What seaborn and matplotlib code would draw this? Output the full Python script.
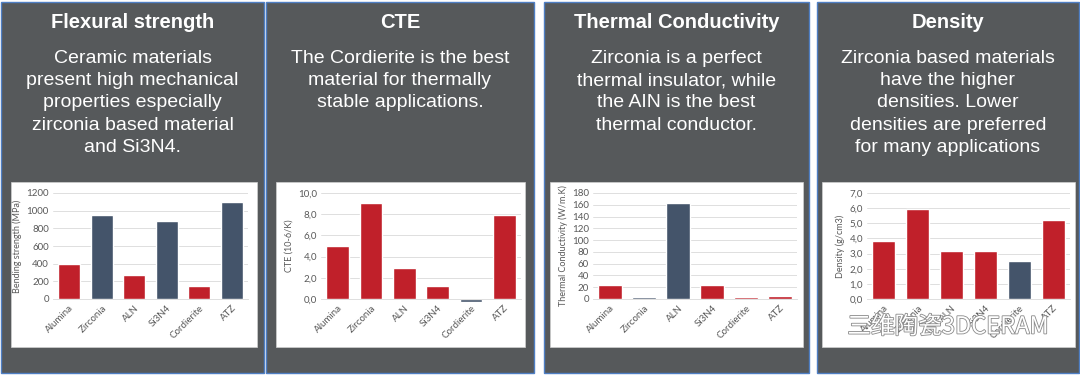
import pandas as pd
import matplotlib.pyplot as plt
import seaborn as sns
from matplotlib.patches import Rectangle
import matplotlib.patheffects as pe

# Data
materials = ['Alumina', 'Zirconia', 'ALN', 'Si3N4', 'Cordierite', 'ATZ']
flexural = [400, 950, 270, 880, 150, 1100]
cte = [5.0, 9.1, 2.9, 1.25, -0.25, 7.95]
conductivity = [24, 3, 163, 24, 3, 5]
density = [3.85, 5.95, 3.2, 3.15, 2.5, 5.2]

RED, NAVY = '#c0202a', '#44546a'
flexural_colors = [RED, NAVY, RED, NAVY, RED, NAVY]
cte_colors = [RED, RED, RED, RED, NAVY, RED]
conductivity_colors = [RED, NAVY, NAVY, RED, RED, RED]
density_colors = [RED, RED, RED, RED, NAVY, RED]

titles = ['Flexural strength', 'CTE', 'Thermal Conductivity', 'Density']
texts = [
    'Ceramic materials\npresent high mechanical\nproperties especially\nzirconia based material\nand Si3N4.',
    'The Cordierite is the best\nmaterial for thermally\nstable applications.',
    'Zirconia is a perfect\nthermal insulator, while\nthe AIN is the best\nthermal conductor.',
    'Zirconia based materials\nhave the higher\ndensities. Lower\ndensities are preferred\nfor many applications',
]
ylabels = ['Bending strength (MPa)', 'CTE (10-6/K)',
           'Thermal Conductivity (W/m.K)', 'Density (g/cm3)']
yticks = [range(0, 1201, 200), range(0, 11, 2), range(0, 181, 20), range(0, 8, 1)]
comma_ticks = [False, True, False, True]

W, H = 1080, 376
panels_x = [(1, 264), (266, 534), (544, 809), (817, 1079)]
boxes_x = [(11, 257), (276, 525), (550, 803), (822, 1075)]
axes_x = [(53, 248), (321, 521), (593, 797), (867, 1070)]

sns.set_style('white')
plt.rcParams['font.family'] = ['Liberation Sans', 'DejaVu Sans']

fig = plt.figure(figsize=(W / 100, H / 100), dpi=100)


def fx(x):
    return x / W


def fy(y):
    return 1 - y / H


datasets = [(flexural, flexural_colors), (cte, cte_colors),
            (conductivity, conductivity_colors), (density, density_colors)]

for i in range(4):
    px0, px1 = panels_x[i]
    fig.patches.append(Rectangle((fx(px0), fy(373)), fx(px1 - px0), (373 - 2) / H,
                                 transform=fig.transFigure, facecolor='#56595b',
                                 edgecolor='#4f7fc4', linewidth=1.0, zorder=-2))
    bx0, bx1 = boxes_x[i]
    fig.patches.append(Rectangle((fx(bx0), fy(347)), fx(bx1 - bx0), (347 - 182) / H,
                                 transform=fig.transFigure, facecolor='white',
                                 edgecolor='#d0d0d0', linewidth=0.5, zorder=-1))
    cx = fx((px0 + px1) / 2)
    fig.text(cx, fy(22), titles[i], ha='center', va='center', color='white',
             fontsize=14.5, fontweight='bold')
    fig.text(cx, fy(50), texts[i], ha='center', va='top', color='white',
             fontsize=14, linespacing=1.4)

    ax0, ax1 = axes_x[i]
    ax = fig.add_axes([fx(ax0), fy(299), fx(ax1 - ax0), 106 / H])
    values, colors = datasets[i]
    df = pd.DataFrame({'Material': materials, 'Value': values})
    sns.barplot(data=df, x='Material', y='Value', hue='Material', palette=colors,
                legend=False, width=0.68, saturation=1, ax=ax)
    for p in ax.patches:
        p.set_clip_on(False)
    ticks = list(yticks[i])
    ax.set_yticks(ticks)
    ax.set_ylim(0, ticks[-1])
    if comma_ticks[i]:
        ax.set_yticklabels([f'{t:.1f}'.replace('.', ',') for t in ticks])
    ax.set_facecolor('none')
    ax.yaxis.grid(True, color='#d9d9d9', linewidth=0.6)
    ax.set_axisbelow(True)
    for s in ['top', 'left', 'right']:
        ax.spines[s].set_visible(False)
    ax.spines['bottom'].set_color('#d9d9d9')
    ax.spines['bottom'].set_linewidth(0.6)
    ax.tick_params(length=0, labelsize=7, colors='#595959', pad=3)
    for lab in ax.get_yticklabels() + ax.get_xticklabels():
        lab.set_family(['Lato', 'DejaVu Sans'])
    plt.setp(ax.get_xticklabels(), rotation=45, ha='right', rotation_mode='anchor')
    ax.set_xlabel('')
    ax.set_ylabel(ylabels[i], fontsize=6.5, color='#595959', family=['Lato', 'DejaVu Sans'],
                  labelpad=3)

# Watermark overlaid on the slide
fig.text(fx(948), fy(327), '三维陶瓷3DCERAM', ha='center', va='center', fontsize=17,
         color='white', family=['Noto Sans CJK SC', 'DejaVu Sans'],
         path_effects=[pe.withStroke(linewidth=1.2, foreground='#8a8a8a')], zorder=10)

fig.savefig('out.png', dpi=100, facecolor='white')
